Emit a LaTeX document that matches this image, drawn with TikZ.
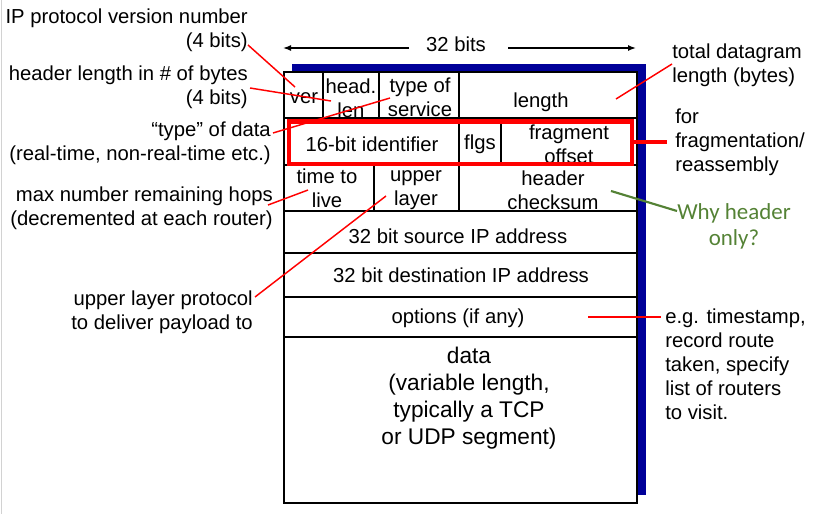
\documentclass[tikz,border=0pt]{standalone}
\usepackage{fontspec}
\setmainfont{Liberation Sans}
\newfontfamily\calibri{Carlito}
\usetikzlibrary{arrows.meta}
\definecolor{navy}{RGB}{0,0,153}
\definecolor{wgreen}{RGB}{84,130,53}
\begin{document}
\begin{tikzpicture}[x=0.75pt,y=-0.75pt,
  txt/.style={inner sep=0pt, font=\fontsize{15.2pt}{18pt}\selectfont, align=center},
  lab/.style={txt, align=right, anchor=east},
  rlab/.style={txt, align=left, anchor=west},
  gridline/.style={line width=2.2pt},
  redl/.style={red, line width=1.1pt},
  greenl/.style={wgreen, line width=1.6pt},
  bitarrow/.style={-{Latex[length=6pt,width=4.5pt]}, line width=1.1pt},
  rowfill/.style={fill=white}
]
\useasboundingbox (0,0) rectangle (814,514);
\draw[gray!35, line width=1pt] (1.5,0) -- (1.5,514);

% shadow
\fill[navy] (292,64) rectangle (646,495);

% row 1
\fill[rowfill] (284,72) rectangle (637,118);
\node[txt] (ver) at (304,98) {ver};
\node[txt] (hlen) at (351,98) {head.\\len};
\node[txt] (tos) at (420,97.5) {type of\\service};
\node[txt] (len) at (541,102) {length};
% row 2
\fill[rowfill] (284,118) rectangle (637,165);
\node[txt] (ident) at (372,144) {16-bit identifier};
\node[txt] (flgs) at (480,144) {flgs};
\node[txt] (frag) at (569,144) {fragment\\offset};
% row 3
\fill[rowfill] (284,165) rectangle (637,211);
\node[txt] (ttl) at (327,188) {time to\\live};
\node[txt] (upl) at (416,190) {upper\\layer};
\node[txt] (hcs) at (553,190) {header\\checksum};
% row 4-7
\fill[rowfill] (284,211) rectangle (637,253);
\node[txt] (src) at (458,236) {32 bit source IP address};
\fill[rowfill] (284,253) rectangle (637,297);
\node[txt] (dst) at (461,275) {32 bit destination IP address};
\fill[rowfill] (284,297) rectangle (637,337);
\node[txt] (opt) at (458,318) {options (if any)};
\fill[rowfill] (284,337) rectangle (637,503);
\node[txt, font=\fontsize{17pt}{20.3pt}\selectfont] (data) at (469,398)
  {data\\(variable length,\\typically a TCP\\or UDP segment)};

% grid
\draw[gridline] (284,72) rectangle (637,503);
\draw[gridline] (284,118) -- (637,118) (284,165) -- (637,165)
  (284,211) -- (637,211) (284,253) -- (637,253)
  (284,297) -- (637,297) (284,337) -- (637,337);
\draw[gridline] (323,72) -- (323,118) (379,72) -- (379,118)
  (459,72) -- (459,211) (501,118) -- (501,165) (374,165) -- (374,211);

% fragmentation highlight
\draw[red, line width=3.5pt] (289,121.5) rectangle (632,164);

% 32 bits
\node[txt] (bits) at (456,44) {32 bits};
\coordinate (bl0) at (409,48);
\coordinate (bl1) at (283,48);
\coordinate (br0) at (508,48);
\coordinate (br1) at (636,48);
\draw[bitarrow] (bl0) -- (bl1);
\draw[bitarrow] (br0) -- (br1);

% left labels
\node[lab] (l1) at (248,30) {IP protocol version number\\(4 bits)};
\node[lab] (l2) at (248,87.5) {header length in \# of bytes\\(4 bits)};
\node[lab] (l3) at (271,143.5) {“type” of data\\(real-time, non-real-time etc.)};
\node[lab] (l4) at (273,208) {max number remaining hops\\(decremented at each router)};
\node[lab] (l5) at (253,312) {upper layer protocol\\to deliver payload to};

% right labels
\node[rlab] (r1) at (672,65) {total datagram\\length (bytes)};
\node[rlab] (r2) at (675,142) {for\\fragmentation/\\reassembly};
\node[txt, text=wgreen, font=\calibri\fontsize{17.2pt}{19.5pt}\selectfont] (r3) at (734,226) {Why header\\only?};
\node[rlab] (r4) at (665,364.5) {e.g. timestamp,\\record route\\taken, specify\\list of routers\\to visit.};

% connector end points
\coordinate (a1) at (248,45);  \coordinate (b1) at (295,87);
\coordinate (a2) at (250,88);  \coordinate (b2) at (331,101);
\coordinate (a3) at (273,133); \coordinate (b3) at (390,98);
\coordinate (a4) at (268,205); \coordinate (b4) at (308,190);
\coordinate (a5) at (255,297); \coordinate (b5) at (386,196);
\coordinate (a6) at (616,99);  \coordinate (b6) at (672,64);
\coordinate (a7) at (588,317); \coordinate (b7) at (661,317);
\coordinate (a8) at (632,142); \coordinate (b8) at (667,142);
\coordinate (a9) at (611,191); \coordinate (b9) at (677,211);

\draw[redl] (a1) -- (b1);
\draw[redl] (a2) -- (b2);
\draw[redl] (a3) -- (b3);
\draw[redl] (a4) -- (b4);
\draw[redl] (a5) -- (b5);
\draw[redl] (a6) -- (b6);
\draw[redl] (a7) -- (b7);
\draw[red, line width=2.3pt] (a8) -- (b8);
\draw[greenl] (a9) -- (b9);
\end{tikzpicture}
\end{document}
